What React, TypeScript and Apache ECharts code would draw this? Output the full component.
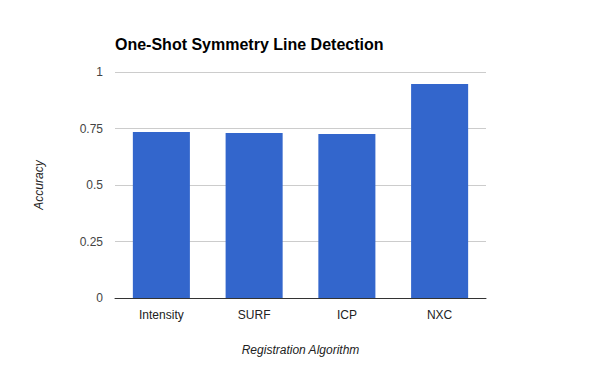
import React, { useEffect, useRef } from "react";
import * as echarts from "echarts";

const categories = ["Intensity", "SURF", "ICP", "NXC"];
const accuracy = [0.735, 0.73, 0.726, 0.947];
const yTicks = [0, 0.25, 0.5, 0.75, 1];

export default function App() {
  const ref = useRef<HTMLDivElement>(null);
  useEffect(() => {
    const chart = echarts.init(ref.current!, null, { renderer: "svg" });
    chart.setOption({
      animation: false,
      backgroundColor: "#ffffff",
      textStyle: { fontFamily: "Liberation Sans, Arial, sans-serif" },
      title: {
        text: "One-Shot Symmetry Line Detection",
        left: 115,
        top: 36,
        padding: 0,
        textStyle: { fontSize: 16, fontWeight: "bold", color: "#000", fontFamily: "Liberation Sans, Arial, sans-serif" },
      },
      grid: { left: 115, right: 114, top: 72, bottom: 73, containLabel: false },
      xAxis: {
        type: "category",
        data: categories,
        name: "Registration Algorithm",
        nameLocation: "middle",
        nameGap: 46,
        nameTextStyle: { fontStyle: "italic", fontSize: 12, color: "#222" },
        axisLine: { show: true, lineStyle: { color: "#333", width: 1 } },
        axisTick: { show: false },
        axisLabel: { color: "#222", fontSize: 12, margin: 11 },
      },
      yAxis: {
        type: "value",
        min: 0,
        max: 1,
        interval: 0.25,
        name: "Accuracy",
        nameLocation: "middle",
        nameGap: 70,
        nameTextStyle: { fontStyle: "italic", fontSize: 12, color: "#222" },
        axisLine: { show: false },
        axisTick: { show: false },
        splitLine: { lineStyle: { color: "#cccccc", width: 1 } },
        axisLabel: {
          color: "#444",
          fontSize: 12,
          margin: 12,
          formatter: (v: number) => (yTicks.includes(v) ? String(v) : ""),
        },
      },
      series: [
        {
          type: "bar",
          data: accuracy,
          barWidth: "61.5%",
          itemStyle: { color: "#3366cc" },
        },
      ],
    });
    return () => chart.dispose();
  }, []);
  return <div ref={ref} style={{ width: 600, height: 371, position: "absolute", left: 0, top: 0 }} />;
}
